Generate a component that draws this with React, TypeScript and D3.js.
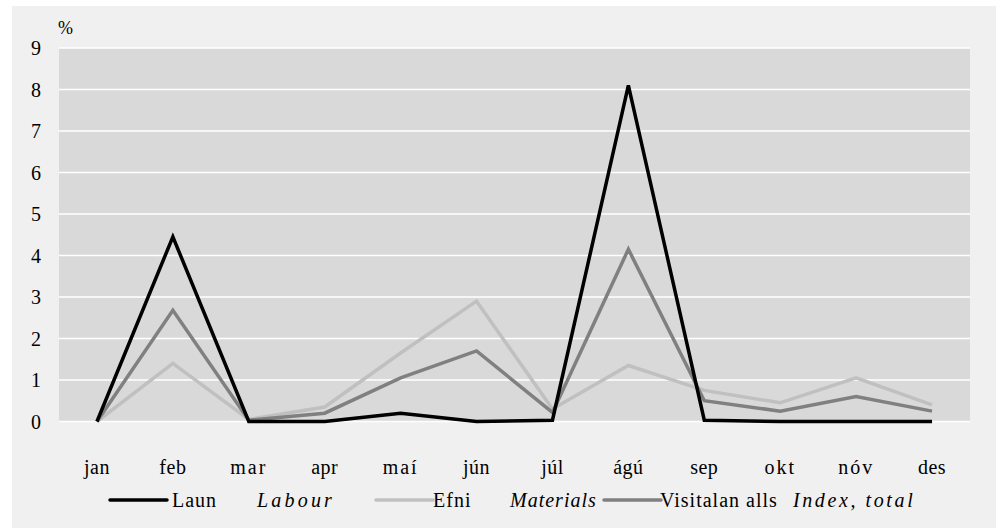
import React, { useEffect, useRef } from 'react';
import * as d3 from 'd3';

const months = ['jan', 'feb', 'mar', 'apr', 'maí', 'jún', 'júl', 'ágú', 'sep', 'okt', 'nóv', 'des'];
const laun = [0, 4.45, 0, 0, 0.2, 0, 0.03, 8.1, 0.03, 0, 0, 0];
const efni = [0, 1.4, 0.05, 0.35, 1.65, 2.9, 0.3, 1.35, 0.75, 0.45, 1.05, 0.4];
const visitala = [0, 2.68, 0.03, 0.2, 1.05, 1.7, 0.22, 4.15, 0.5, 0.25, 0.6, 0.25];
const yTicks = [0, 1, 2, 3, 4, 5, 6, 7, 8, 9];

const series = [
  { name: 'Laun', en: 'Labour', values: laun, color: '#000000', lx: 110, tx: 172, ex: 257, sp: 3.2 },
  { name: 'Efni', en: 'Materials', values: efni, color: '#c0c0c0', lx: 376, tx: 433, ex: 510, sp: 1 },
  { name: 'Visitalan alls', en: 'Index, total', values: visitala, color: '#808080', lx: 604, tx: 660, ex: 793, sp: 2.6 },
];

const FONT = "'Liberation Serif', 'Times New Roman', Times, serif";

function drawChart(svg: d3.Selection<SVGSVGElement, unknown, null, undefined>) {
  const left = 59, right = 970, top = 48, bottom = 421.5;

  svg.append('rect').attr('x', 12).attr('y', 6).attr('width', 984).attr('height', 522).attr('fill', '#f0f0f0');
  svg.append('rect').attr('x', left).attr('y', top).attr('width', right - left).attr('height', bottom - top).attr('fill', '#d9d9d9');

  const x = d3.scalePoint().domain(months).range([left, right]).padding(0.5);
  const y = d3.scaleLinear().domain([0, 9]).range([bottom, top]);

  // gridlines
  svg.append('g')
    .selectAll('line')
    .data(yTicks)
    .join('line')
    .attr('x1', left).attr('x2', right)
    .attr('y1', d => y(d)).attr('y2', d => y(d))
    .attr('stroke', '#ffffff').attr('stroke-width', 1.5);

  const txt = svg.append('g').style('font-family', FONT).style('font-size', '20px').attr('fill', '#000');

  // y labels
  txt.append('g')
    .selectAll('text')
    .data(yTicks)
    .join('text')
    .attr('x', 41).attr('y', d => y(d) + 7)
    .attr('text-anchor', 'end')
    .text(d => d);

  txt.append('text').attr('x', 58).attr('y', 34).style('font-size', '18px').text('%');

  // x labels
  txt.append('g')
    .selectAll('text')
    .data(months)
    .join('text')
    .attr('x', d => x(d)!).attr('y', 474)
    .attr('text-anchor', 'middle')
    .style('letter-spacing', d => (d === 'mar' || d === 'okt' || d === 'nóv' || d === 'maí' ? '2px' : '0.5px'))
    .text(d => d);

  const line = d3.line<number>()
    .x((_, i) => x(months[i])!)
    .y(d => y(d));

  const order = [series[1], series[2], series[0]];
  svg.append('g')
    .selectAll('path')
    .data(order)
    .join('path')
    .attr('d', d => line(d.values))
    .attr('fill', 'none')
    .attr('stroke', d => d.color)
    .attr('stroke-width', 3.5)
    .attr('stroke-linejoin', 'miter');

  // legend
  const lg = txt.append('g').selectAll('g').data(series).join('g');
  lg.append('line')
    .attr('x1', d => d.lx).attr('x2', d => d.lx + 57)
    .attr('y1', 500).attr('y2', 500)
    .attr('stroke', d => d.color).attr('stroke-width', 3.5).attr('stroke-linecap', 'round');
  lg.append('text')
    .attr('x', d => d.tx).attr('y', 507)
    .style('letter-spacing', '1px')
    .text(d => d.name);
  lg.append('text')
    .attr('x', d => d.ex).attr('y', 507)
    .style('font-style', 'italic').style('letter-spacing', d => d.sp + 'px')
    .text(d => d.en);
}

export default function App() {
  const ref = useRef<SVGSVGElement>(null);
  useEffect(() => {
    const svg = d3.select(ref.current!);
    svg.selectAll('*').remove();
    drawChart(svg as any);
  }, []);
  return (
    <svg ref={ref} width={1000} height={528}
      style={{ position: 'absolute', left: 0, top: 0, background: '#ffffff' }} />
  );
}
